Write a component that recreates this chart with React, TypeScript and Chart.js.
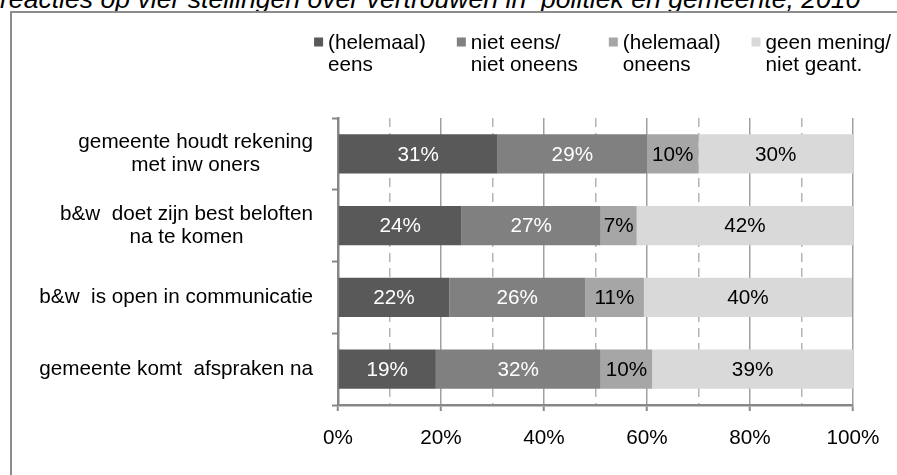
import React, { useEffect, useRef } from "react";
import { Chart, registerables } from "chart.js";

Chart.register(...registerables);

const titleText = "reacties op vier stellingen over vertrouwen in  politiek en gemeente, 2010";

const categories: string[][] = [
  ["gemeente houdt rekening", "met inw oners"],
  ["b&w  doet zijn best beloften", "na te komen"],
  ["b&w  is open in communicatie"],
  ["gemeente komt  afspraken na"],
];

const seriesNames: string[][] = [
  ["(helemaal)", "eens"],
  ["niet eens/", "niet oneens"],
  ["(helemaal)", "oneens"],
  ["geen mening/", "niet geant."],
];

const eens = [31, 24, 21.6, 19];
const nietEensNietOneens = [29, 27, 26.4, 32];
const oneens = [10, 7, 11.4, 10];
const geenMening = [30, 42, 40.4, 39];

const xMin = 0;
const xMax = 100;
const xMajorStep = 20;
const xMinorStep = 10;

const seriesColors = ["#595959", "#808080", "#a6a6a6", "#d9d9d9"];
const labelColors = ["#ffffff", "#ffffff", "#000000", "#000000"];

const FONT = '"Liberation Sans", Arial, Helvetica, sans-serif';
const FS = 20.7;

const dataLabelPlugin = {
  id: "dataLabels",
  afterDatasetsDraw(chart: any) {
    const ctx = chart.ctx;
    ctx.save();
    ctx.font = `${FS}px ${FONT}`;
    ctx.textAlign = "center";
    ctx.textBaseline = "middle";
    chart.data.datasets.forEach((ds: any, di: number) => {
      const meta = chart.getDatasetMeta(di);
      meta.data.forEach((el: any, i: number) => {
        const v = ds.data[i];
        const x = (el.x + el.base) / 2;
        ctx.fillStyle = labelColors[di];
        ctx.fillText(`${Math.round(v)}%`, x, el.y + 1);
      });
    });
    ctx.restore();
  },
};

const categoryLabelPlugin = {
  id: "catLabels",
  afterDraw(chart: any) {
    const ctx = chart.ctx;
    const yScale = chart.scales.y;
    const xRight = chart.chartArea.left - 25;
    const lh = 23;
    ctx.save();
    ctx.font = `${FS}px ${FONT}`;
    ctx.fillStyle = "#000";
    ctx.textAlign = "center";
    ctx.textBaseline = "middle";
    categories.forEach((lines, i) => {
      const yc = yScale.getPixelForValue(i);
      const bw = Math.max(...lines.map((l) => ctx.measureText(l).width));
      const cx = xRight - bw / 2;
      const y0 = yc - ((lines.length - 1) * lh) / 2;
      lines.forEach((l, j) => ctx.fillText(l, cx, y0 + j * lh));
    });
    ctx.restore();
  },
};

const legendPlugin = {
  id: "customLegend",
  afterDraw(chart: any) {
    const ctx = chart.ctx;
    const box = 9;
    const boxGap = 5;
    const itemGap = 31;
    const lh = 22;
    const y1 = 43;
    ctx.save();
    ctx.font = `${FS}px ${FONT}`;
    ctx.textBaseline = "middle";
    ctx.textAlign = "left";
    const widths = seriesNames.map(
      (lines) => box + boxGap + Math.max(...lines.map((l) => ctx.measureText(l).width))
    );
    const total = widths.reduce((a, b) => a + b, 0) + itemGap * (widths.length - 1);
    const cxArea = (chart.chartArea.left + chart.chartArea.right) / 2 + 7;
    let x = cxArea - total / 2;
    seriesNames.forEach((lines, i) => {
      ctx.fillStyle = seriesColors[i];
      ctx.fillRect(x, y1 - box / 2 - 1, box, box);
      ctx.fillStyle = "#000";
      lines.forEach((l, j) => ctx.fillText(l, x + box + boxGap, y1 + j * lh));
      x += widths[i] + itemGap;
    });
    ctx.restore();
  },
};

export default function App() {
  const ref = useRef<HTMLCanvasElement | null>(null);

  useEffect(() => {
    if (!ref.current) return;
    const allSeries = [eens, nietEensNietOneens, oneens, geenMening];
    const chart = new Chart(ref.current, {
      type: "bar",
      data: {
        labels: categories.map((c) => c.join(" ")),
        datasets: allSeries.map((d, i) => ({
          label: seriesNames[i].join(" "),
          data: d,
          backgroundColor: seriesColors[i],
          borderWidth: 0,
          barPercentage: 0.545,
          categoryPercentage: 1,
        })),
      },
      options: {
        indexAxis: "y",
        responsive: false,
        maintainAspectRatio: false,
        animation: false,
        events: [],
        layout: { padding: { top: 118, right: 44, left: 0, bottom: 0 } },
        plugins: {
          legend: { display: false },
          tooltip: { enabled: false },
          title: { display: false },
        },
        scales: {
          x: {
            stacked: true,
            min: xMin,
            max: xMax,
            position: "bottom",
            ticks: {
              stepSize: xMajorStep,
              callback: (v: any) => `${v}%`,
              color: "#000",
              font: { family: FONT, size: FS },
              padding: 15,
              maxRotation: 0,
            },
            grid: {
              color: "#a0a0a0",
              lineWidth: 1.5,
              tickLength: 6,
              tickColor: "#8a8a8a",
              tickWidth: 2,
            },
            border: { color: "#878787", width: 2.5 },
            afterFit: (s: any) => {
              s.height = 70;
            },
          },
          x2: {
            type: "linear",
            min: xMin,
            max: xMax,
            position: "bottom",
            ticks: { display: false, stepSize: xMinorStep },
            grid: {
              color: (c: any) =>
                c.tick && c.tick.value % xMajorStep !== 0 ? "#b4b4b4" : "rgba(0,0,0,0)",
              lineWidth: 1.5,
              drawTicks: false,
            },
            border: { display: false, dash: [9, 6] },
            afterFit: (s: any) => {
              s.height = 0;
            },
          },
          y: {
            stacked: true,
            ticks: { display: false },
            grid: {
              offset: true,
              drawOnChartArea: false,
              tickLength: 6,
              tickColor: "#878787",
              tickWidth: 2,
            },
            border: { color: "#878787", width: 2.5 },
            afterFit: (s: any) => {
              s.width = 338;
            },
          },
        },
      } as any,
      plugins: [dataLabelPlugin, categoryLabelPlugin, legendPlugin],
    });
    return () => chart.destroy();
  }, []);

  return (
    <div
      style={{
        position: "fixed",
        left: 0,
        top: 0,
        width: 897,
        height: 475,
        overflow: "hidden",
        background: "#fff",
      }}
    >
      <div
        style={{
          position: "absolute",
          left: 0,
          top: -14,
          fontFamily: FONT,
          fontStyle: "italic",
          fontSize: 26.6,
          lineHeight: "26px",
          whiteSpace: "pre",
          color: "#000",
        }}
      >
        {titleText}
      </div>
      <div
        style={{
          position: "absolute",
          left: 10,
          top: 11,
          width: 1000,
          height: 1000,
          borderLeft: "2px solid #8c8c8c",
          borderTop: "2px solid #8c8c8c",
        }}
      />
      <canvas
        ref={ref}
        width={897}
        height={475}
        style={{ position: "absolute", left: 0, top: 0, width: 897, height: 475 }}
      />
    </div>
  );
}
